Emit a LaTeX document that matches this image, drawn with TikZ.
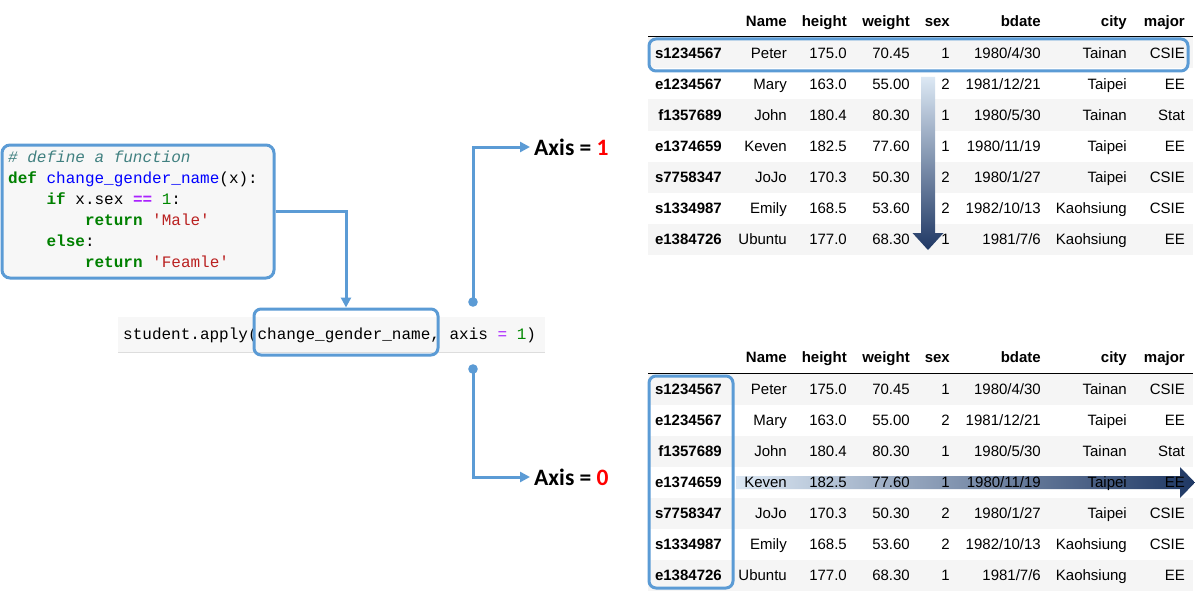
\documentclass[tikz,border=0pt]{standalone}
\usepackage{fontspec}
\setmainfont{Liberation Sans}
\newfontfamily\codefont{Liberation Mono}
\newfontfamily\axisfont{Carlito}
\usetikzlibrary{arrows.meta}
\definecolor{blueln}{HTML}{5B9BD5}
\definecolor{rowgray}{HTML}{F5F5F5}
\definecolor{codebg}{HTML}{F7F7F7}
\definecolor{codeline}{HTML}{DDDDDD}
\definecolor{cmt}{HTML}{408080}
\definecolor{kw}{HTML}{008000}
\definecolor{fn}{HTML}{0000FF}
\definecolor{op}{HTML}{AA22FF}
\definecolor{num}{HTML}{008800}
\definecolor{str}{HTML}{BA2121}
\definecolor{axred}{HTML}{FF0000}
\definecolor{gradlight}{HTML}{DCE8F4}
\definecolor{graddark}{HTML}{1F3864}
\tikzset{
  cell/.style={anchor=base east,inner sep=0pt,font=\fontsize{15}{18}\selectfont},
  idx/.style={cell,font=\fontsize{15}{18}\selectfont\bfseries},
  hdr/.style={cell,font=\fontsize{15}{18}\selectfont\bfseries},
  code/.style={anchor=base west,inner sep=0pt,font=\codefont\fontsize{16}{21}\selectfont},
  conn/.style={draw=blueln,line width=3pt,-{Triangle[length=10pt,width=10pt]}},
  hlbox/.style={draw=blueln,line width=3pt,rounded corners=7pt,inner sep=0pt},
  axlab/.style={anchor=west,inner sep=4pt,font=\axisfont\fontsize{23.5}{28}\selectfont\bfseries},
}
\newcommand\tabtop{53}
\newcommand\tabid{A}
\newcommand\rowtextcolor{black}
\newcommand\trow[9]{%
  \pgfmathsetmacro\ry{\tabtop+31*(#1-1)}%
  \pgfmathsetmacro\rb{\ry+5.4}%
  \ifodd#1\relax\fill[rowgray] (648,\ry-15.5) rectangle (1193,\ry+15.5);\fi
  \node[idx]  (\tabid r#1c0) at (722,\rb) {#2};
  \node[cell] (\tabid r#1c1) at (787,\rb) {#3};
  \node[cell] (\tabid r#1c2) at (847,\rb) {#4};
  \node[cell] (\tabid r#1c3) at (910,\rb) {#5};
  \node[cell] (\tabid r#1c4) at (950,\rb) {#6};
  \node[cell] (\tabid r#1c5) at (1041,\rb) {#7};
  \node[cell] (\tabid r#1c6) at (1127,\rb) {#8};
  \node[cell] (\tabid r#1c7) at (1185,\rb) {#9};
}
\newcommand\thead[1]{%
  \node[hdr] (\tabid h1) at (787,#1+5.4) {Name};
  \node[hdr] (\tabid h2) at (847,#1+5.4) {height};
  \node[hdr] (\tabid h3) at (910,#1+5.4) {weight};
  \node[hdr] (\tabid h4) at (950,#1+5.4) {sex};
  \node[hdr] (\tabid h5) at (1041,#1+5.4) {bdate};
  \node[hdr] (\tabid h6) at (1127,#1+5.4) {city};
  \node[hdr] (\tabid h7) at (1185,#1+5.4) {major};
  \draw[black,line width=1pt] (648,#1+16) -- (1193,#1+16);
}
\newcommand\tbody{%
  \trow{1}{s1234567}{Peter}{175.0}{70.45}{1}{1980/4/30}{Tainan}{CSIE}
  \trow{2}{e1234567}{Mary}{163.0}{55.00}{2}{1981/12/21}{Taipei}{EE}
  \trow{3}{f1357689}{John}{180.4}{80.30}{1}{1980/5/30}{Tainan}{Stat}
  \trow{4}{e1374659}{Keven}{182.5}{77.60}{1}{1980/11/19}{Taipei}{EE}
  \trow{5}{s7758347}{JoJo}{170.3}{50.30}{2}{1980/1/27}{Taipei}{CSIE}
  \trow{6}{s1334987}{Emily}{168.5}{53.60}{2}{1982/10/13}{Kaohsiung}{CSIE}
  \trow{7}{e1384726}{Ubuntu}{177.0}{68.30}{1}{1981/7/6}{Kaohsiung}{EE}
}
\begin{document}
\begin{tikzpicture}[x=1pt,y=-1pt]
\useasboundingbox (0,0) rectangle (1195,594);
\fill[white] (0,0) rectangle (1195,594);

% ---------- code block ----------
\node[draw=blueln,fill=codebg,line width=3pt,rounded corners=8pt,
      minimum width=272pt,minimum height=133pt,inner sep=0pt] (codebox) at (138,211.5) {};
\node[code] (c1) at (8,162.5) {\color{cmt}\itshape\# define a function};
\node[code] (c2) at (8,183.5) {{\color{kw}\bfseries def} {\color{fn}change\_gender\_name}(x):};
\node[code] (c3) at (46.4,204.5) {{\color{kw}\bfseries if} x.sex {\color{op}\bfseries ==} {\color{num}1}:};
\node[code] (c4) at (84.8,225.5) {{\color{kw}\bfseries return} {\color{str}'Male'}};
\node[code] (c5) at (46.4,246.5) {{\color{kw}\bfseries else}:};
\node[code] (c6) at (84.8,267.5) {{\color{kw}\bfseries return} {\color{str}'Feamle'}};

% ---------- apply line ----------
\fill[codebg] (118,317) rectangle (545,352);
\draw[codeline,line width=1pt] (118,352) -- (545,352);
\node[code] (apply) at (123,339.5) {student.apply(change\_gender\_name, axis {\color{op}=} {\color{num}1})};
\node[hlbox,minimum width=184pt,minimum height=46pt] (hl) at (346,332) {};

\draw[conn] (codebox.east) -| (hl.north);

% ---------- axis labels ----------
\node[axlab] (ax1) at (530,147) {Axis = {\color{axred}1}};
\node[axlab] (ax0) at (530,477) {Axis = {\color{axred}0}};
\coordinate (d1) at (473,302);
\coordinate (d0) at (473,369);
\fill[blueln] (d1) circle (4.8);
\fill[blueln] (d0) circle (4.8);
\draw[conn] (d1) |- (ax1.west);
\draw[conn] (d0) |- (ax0.west);

% ---------- top table ----------
\renewcommand\tabtop{53}\renewcommand\tabid{A}
\thead{21}
\tbody
\node[hlbox,minimum width=539pt,minimum height=32pt] (rowbox) at (918.5,55) {};
\shade[top color=gradlight,bottom color=graddark]
  (921,77) -- (935,77) -- (935,233) -- (943.5,233) -- (928,250) -- (912.5,233) -- (921,233) -- cycle;

% ---------- bottom table ----------
\renewcommand\tabtop{389}\renewcommand\tabid{B}
\shade[left color=gradlight,right color=graddark]
  (736,476) -- (1180,476) -- (1180,467) -- (1195,482.5) -- (1180,498) -- (1180,489) -- (736,489) -- cycle;
\thead{357}
\tbody
\node[hlbox,minimum width=84pt,minimum height=212pt] (colbox) at (691,482) {};
\end{tikzpicture}
\end{document}
